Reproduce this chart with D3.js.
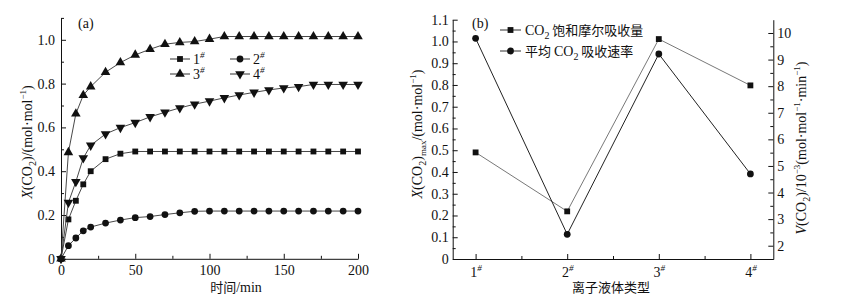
<!DOCTYPE html>
<html>
<head>
<meta charset="utf-8">
<script src="https://cdn.jsdelivr.net/npm/d3@7"></script>
<style>
  body { margin: 0; background: #fff; }
  svg text { font-family: "Liberation Serif", "Times New Roman", serif; fill: #111; }
  svg text .cjk, svg text.cjk { font-family: "Noto Sans CJK SC", sans-serif; }
  .axis path, .axis line { stroke: #111; }
</style>
</head>
<body>
<script>
// data -----------------------------------------------------------
var times = [0, 5, 10, 15, 20, 30, 40, 50, 60, 70, 80, 90, 100, 110, 120, 130, 140, 150, 160, 170, 180, 190, 200];
var il1 = [0, 0.18, 0.265, 0.34, 0.40, 0.455, 0.48, 0.49, 0.49, 0.49, 0.49, 0.49, 0.49, 0.49, 0.49, 0.49, 0.49, 0.49, 0.49, 0.49, 0.49, 0.49, 0.49];
var il2 = [0, 0.06, 0.095, 0.128, 0.145, 0.163, 0.177, 0.188, 0.193, 0.202, 0.21, 0.217, 0.218, 0.218, 0.218, 0.218, 0.218, 0.218, 0.218, 0.218, 0.218, 0.218, 0.218];
var il3 = [0, 0.486, 0.662, 0.747, 0.786, 0.852, 0.896, 0.931, 0.957, 0.98, 0.988, 0.992, 1.003, 1.015, 1.015, 1.015, 1.015, 1.015, 1.015, 1.015, 1.015, 1.015, 1.015];
var il4 = [0, 0.257, 0.352, 0.46, 0.518, 0.57, 0.599, 0.622, 0.648, 0.669, 0.689, 0.706, 0.72, 0.735, 0.748, 0.76, 0.771, 0.78, 0.786, 0.796, 0.796, 0.796, 0.796];

var liquids = ["1", "2", "3", "4"];
var maxUptake = [0.49, 0.219, 1.011, 0.798];
var avgRate = [9.8, 2.43, 9.21, 4.7];

var xTicksA = [0, 50, 100, 150, 200];
var yTicksA = [0, 0.2, 0.4, 0.6, 0.8, 1.0];
var yTicksL = [0, 0.1, 0.2, 0.3, 0.4, 0.5, 0.6, 0.7, 0.8, 0.9, 1.0, 1.1];
var yTicksR = [2, 3, 4, 5, 6, 7, 8, 9, 10];

var SERIF = "Liberation Serif, Times New Roman, serif";

// svg ------------------------------------------------------------
var svg = d3.select("body").append("svg")
  .attr("width", 843)
  .attr("height", 308);

function marker(g, type, x, y) {
  var sym;
  if (type == "square") sym = d3.symbol(d3.symbolSquare, 34);
  else if (type == "circle") sym = d3.symbol(d3.symbolCircle, 36);
  else sym = d3.symbol(d3.symbolTriangle, 40);
  var rot = type == "down" ? 180 : 0;
  g.append("path")
    .attr("d", sym())
    .attr("transform", `translate(${x},${y}) rotate(${rot})`)
    .attr("fill", "#111");
}

function styleAxis(g) {
  g.attr("font-family", SERIF).attr("font-size", 14);
  g.selectAll("text").attr("font-family", SERIF).attr("font-size", 14).attr("fill", "#111");
}

// ===== panel (a) =====
var xA = d3.scaleLinear().domain([0, 200]).range([61, 358]);
var yA = d3.scaleLinear().domain([0, 1.1]).range([258.8, 17.9]);

var gA = svg.append("g");

gA.append("g").attr("class", "axis")
  .attr("transform", `translate(0,${yA(0)})`)
  .call(d3.axisBottom(xA).tickValues(xTicksA).tickSize(-5).tickPadding(6).tickSizeOuter(0))
  .call(styleAxis);
gA.append("g").attr("class", "axis")
  .attr("transform", `translate(0,${yA(0)})`)
  .call(d3.axisBottom(xA).tickValues([25, 75, 125, 175]).tickSize(-3).tickFormat("").tickSizeOuter(0))
  .call(g => g.select(".domain").remove());

gA.append("g").attr("class", "axis")
  .attr("transform", `translate(${xA(0)},0)`)
  .call(d3.axisLeft(yA).tickValues(yTicksA).tickSize(-5).tickPadding(6).tickSizeOuter(0)
    .tickFormat(d => d == 0 ? "0" : d3.format(".1f")(d)))
  .call(styleAxis);
gA.append("g").attr("class", "axis")
  .attr("transform", `translate(${xA(0)},0)`)
  .call(d3.axisLeft(yA).tickValues([0.1, 0.3, 0.5, 0.7, 0.9, 1.1]).tickSize(-3).tickFormat("").tickSizeOuter(0))
  .call(g => g.select(".domain").remove());

var seriesA = [
  { vals: il1, type: "square" },
  { vals: il2, type: "circle" },
  { vals: il3, type: "triangle" },
  { vals: il4, type: "down" }
];
var lineA = d3.line().x(d => xA(d[0])).y(d => yA(d[1]));
seriesA.forEach(function(s) {
  var pts = times.map((t, i) => [t, s.vals[i]]);
  gA.append("path")
    .attr("d", lineA(pts))
    .attr("fill", "none")
    .attr("stroke", "#333")
    .attr("stroke-width", 0.9);
  pts.forEach(p => marker(gA, s.type, xA(p[0]), yA(p[1])));
});

// legend (a)
var legA = [
  { lab: "1", type: "square", x: 170, y: 59 },
  { lab: "2", type: "circle", x: 230, y: 59 },
  { lab: "3", type: "triangle", x: 170, y: 74 },
  { lab: "4", type: "down", x: 230, y: 74 }
];
legA.forEach(function(l) {
  gA.append("line").attr("x1", l.x).attr("x2", l.x + 20).attr("y1", l.y).attr("y2", l.y)
    .attr("stroke", "#333");
  marker(gA, l.type, l.x + 10, l.y);
  var t = gA.append("text").attr("x", l.x + 23).attr("y", l.y + 5).attr("font-size", 14);
  t.append("tspan").text(l.lab);
  t.append("tspan").attr("font-size", 9).attr("dy", -6).attr("font-style", "italic").text("#");
});

gA.append("text").attr("x", 78).attr("y", 28).attr("font-size", 14).text("(a)");

// axis titles (a)
var tA = gA.append("text").attr("font-size", 14)
  .attr("transform", "translate(32,142) rotate(-90)").attr("text-anchor", "middle");
tA.append("tspan").attr("font-style", "italic").text("X");
tA.append("tspan").text("(CO");
tA.append("tspan").attr("font-size", 10).attr("dy", 4).text("2");
tA.append("tspan").attr("dy", -4).text(")/(mol·mol");
tA.append("tspan").attr("font-size", 9).attr("dy", -6).text("−1");
tA.append("tspan").attr("dy", 6).text(")");

var xtA = gA.append("text").attr("x", 236).attr("y", 292).attr("font-size", 14).attr("text-anchor", "middle");
xtA.append("tspan").attr("class", "cjk").attr("font-size", 13).text("时间");
xtA.append("tspan").text("/min");

// ===== panel (b) =====
var xB = d3.scaleLinear().domain([0.75, 4.25]).range([452.7, 773.3]);
var yL = d3.scaleLinear().domain([0, 1.1]).range([259, 19.7]);
var yR = d3.scaleLinear().domain([1.5, 10.5]).range([259, 19.7]);

var gB = svg.append("g");

gB.append("g").attr("class", "axis")
  .attr("transform", `translate(0,${yL(0)})`)
  .call(d3.axisBottom(xB).tickValues([1, 2, 3, 4]).tickSize(-5).tickSizeOuter(0).tickFormat(""))
  .call(g => g.selectAll(".tick").append("text")
    .attr("y", 18).attr("font-size", 14).attr("font-family", SERIF)
    .attr("text-anchor", "middle").attr("fill", "#111")
    .each(function(d) {
      var t = d3.select(this);
      t.append("tspan").text(liquids[d - 1]);
      t.append("tspan").attr("font-size", 9).attr("dy", -6).attr("font-style", "italic").text("#");
    }));
gB.append("g").attr("class", "axis")
  .attr("transform", `translate(0,${yL(0)})`)
  .call(d3.axisBottom(xB).tickValues([1.5, 2.5, 3.5]).tickSize(-3).tickFormat("").tickSizeOuter(0))
  .call(g => g.select(".domain").remove());

gB.append("g").attr("class", "axis")
  .attr("transform", `translate(${xB(0.75)},0)`)
  .call(d3.axisLeft(yL).tickValues(yTicksL).tickSize(-5).tickPadding(4).tickSizeOuter(0)
    .tickFormat(d => d == 0 ? "0" : d3.format(".1f")(d)))
  .call(styleAxis);
gB.append("g").attr("class", "axis")
  .attr("transform", `translate(${xB(0.75)},0)`)
  .call(d3.axisLeft(yL).tickValues(d3.range(0.05, 1.1, 0.1)).tickSize(-3).tickFormat("").tickSizeOuter(0))
  .call(g => g.select(".domain").remove());

gB.append("g").attr("class", "axis")
  .attr("transform", `translate(${xB(4.25)},0)`)
  .call(d3.axisRight(yR).tickValues(yTicksR).tickSize(-5).tickPadding(4).tickSizeOuter(0))
  .call(styleAxis);
gB.append("g").attr("class", "axis")
  .attr("transform", `translate(${xB(4.25)},0)`)
  .call(d3.axisRight(yR).tickValues(d3.range(2.5, 10.5, 1)).tickSize(-3).tickFormat("").tickSizeOuter(0))
  .call(g => g.select(".domain").remove());

var lineL = d3.line().x((d, i) => xB(i + 1)).y(d => yL(d));
var lineR = d3.line().x((d, i) => xB(i + 1)).y(d => yR(d));
gB.append("path").attr("d", lineL(maxUptake)).attr("fill", "none").attr("stroke", "#555").attr("stroke-width", 0.8);
gB.append("path").attr("d", lineR(avgRate)).attr("fill", "none").attr("stroke", "#222").attr("stroke-width", 1);
maxUptake.forEach((v, i) => marker(gB, "square", xB(i + 1), yL(v)));
avgRate.forEach((v, i) => marker(gB, "circle", xB(i + 1), yR(v)));

gB.append("text").attr("x", 472).attr("y", 28).attr("font-size", 14).text("(b)");

// legend (b)
var legB = [
  { type: "square", y: 30, pre: "", post: " 饱和摩尔吸收量" },
  { type: "circle", y: 51, pre: "平均 ", post: " 吸收速率" }
];
legB.forEach(function(l) {
  gB.append("line").attr("x1", 500).attr("x2", 521).attr("y1", l.y).attr("y2", l.y).attr("stroke", "#333");
  marker(gB, l.type, 510.5, l.y);
  var t = gB.append("text").attr("x", 525).attr("y", l.y + 5).attr("font-size", 14);
  if (l.pre) t.append("tspan").attr("class", "cjk").attr("font-size", 13).text(l.pre);
  t.append("tspan").text("CO");
  t.append("tspan").attr("font-size", 10).attr("dy", 4).text("2");
  t.append("tspan").attr("class", "cjk").attr("font-size", 13).attr("dy", -4).text(l.post);
});

// axis titles (b)
var tL = gB.append("text").attr("font-size", 14)
  .attr("transform", "translate(422,134) rotate(-90)").attr("text-anchor", "middle");
tL.append("tspan").attr("font-style", "italic").text("X");
tL.append("tspan").text("(CO");
tL.append("tspan").attr("font-size", 10).attr("dy", 4).text("2");
tL.append("tspan").attr("dy", -4).text(")");
tL.append("tspan").attr("font-size", 9).attr("dy", 4).text("max");
tL.append("tspan").attr("dy", -4).text("/(mol·mol");
tL.append("tspan").attr("font-size", 9).attr("dy", -6).text("−1");
tL.append("tspan").attr("dy", 6).text(")");

var tR = gB.append("text").attr("font-size", 14)
  .attr("transform", "translate(806,148) rotate(-90)").attr("text-anchor", "middle");
tR.append("tspan").attr("font-style", "italic").text("V");
tR.append("tspan").text("(CO");
tR.append("tspan").attr("font-size", 10).attr("dy", 4).text("2");
tR.append("tspan").attr("dy", -4).text(")/10");
tR.append("tspan").attr("font-size", 9).attr("dy", -6).text("−3");
tR.append("tspan").attr("dy", 6).text("(mol·mol");
tR.append("tspan").attr("font-size", 9).attr("dy", -6).text("−1");
tR.append("tspan").attr("dy", 6).text("·min");
tR.append("tspan").attr("font-size", 9).attr("dy", -6).text("−1");
tR.append("tspan").attr("dy", 6).text(")");

gB.append("text").attr("class", "cjk").attr("x", 611).attr("y", 292).attr("font-size", 13)
  .attr("text-anchor", "middle").text("离子液体类型");
</script>
</body>
</html>
